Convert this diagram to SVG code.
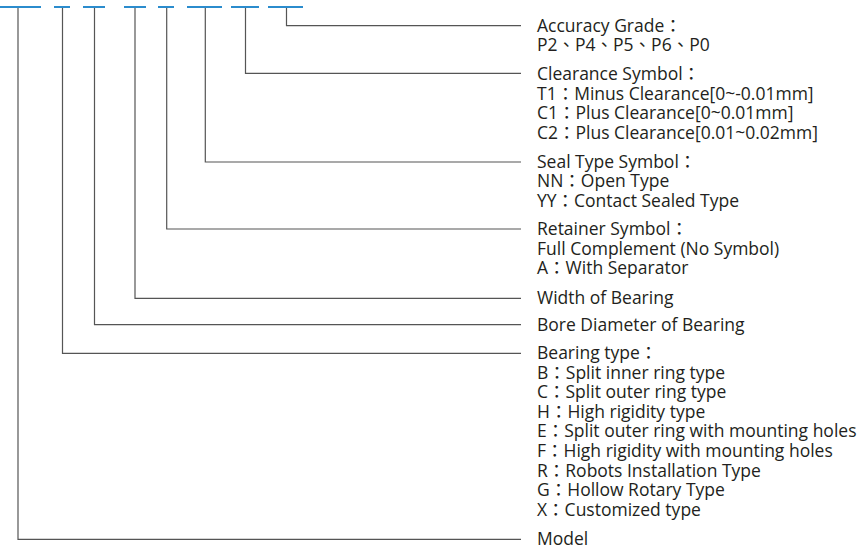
<svg xmlns="http://www.w3.org/2000/svg" width="866" height="547" viewBox="0 0 866 547">
<style>
.dash{stroke:#2b8ccd;stroke-width:2;fill:none}
.ln{stroke:#555;stroke-width:1.2;fill:none}
text{font-family:"Open Sans","Noto Sans CJK TC",sans-serif;font-size:17.5px;fill:#231f20}
</style>
<rect width="866" height="547" fill="#fff"/>
<g id="code">
<line class="dash" x1="0" y1="7" x2="41" y2="7"/>
<line class="dash" x1="54" y1="7" x2="70" y2="7"/>
<line class="dash" x1="83" y1="7" x2="105" y2="7"/>
<line class="dash" x1="124" y1="7" x2="146" y2="7"/>
<line class="dash" x1="158" y1="7" x2="174" y2="7"/>
<line class="dash" x1="187" y1="7" x2="222" y2="7"/>
<line class="dash" x1="231" y1="7" x2="259" y2="7"/>
<line class="dash" x1="268" y1="7" x2="303" y2="7"/>
</g>
<g id="connectors">
<polyline class="ln" points="286.5,8 286.5,25.7 521,25.7"/>
<polyline class="ln" points="245.5,8 245.5,73.3 521,73.3"/>
<polyline class="ln" points="205.3,8 205.3,162 521,162"/>
<polyline class="ln" points="166.7,8 166.7,229 521,229"/>
<polyline class="ln" points="135,8 135,298.3 521,298.3"/>
<polyline class="ln" points="94.5,8 94.5,324.7 521,324.7"/>
<polyline class="ln" points="62.5,8 62.5,353.3 521,353.3"/>
<polyline class="ln" points="18,8 18,539.3 521,539.3"/>
</g>
<g id="accuracy">
<text x="537" y="31.8">Accuracy Grade：</text>
<text x="537" y="51.4">P2、P4、P5、P6、P0</text>
</g>
<g id="clearance">
<text x="537" y="80">Clearance Symbol：</text>
<text x="537" y="99.6">T1：Minus Clearance[0~-0.01mm]</text>
<text x="537" y="119.2">C1：Plus Clearance[0~0.01mm]</text>
<text x="537" y="138.8">C2：Plus Clearance[0.01~0.02mm]</text>
</g>
<g id="seal">
<text x="537" y="167.5">Seal Type Symbol：</text>
<text x="537" y="187.1">NN：Open Type</text>
<text x="537" y="206.7">YY：Contact Sealed Type</text>
</g>
<g id="retainer">
<text x="537" y="235">Retainer Symbol：</text>
<text x="537" y="254.6">Full Complement (No Symbol)</text>
<text x="537" y="274.2">A：With Separator</text>
</g>
<g id="width">
<text x="537" y="304">Width of Bearing</text>
</g>
<g id="bore">
<text x="537" y="330.5">Bore Diameter of Bearing</text>
</g>
<g id="type">
<text x="537" y="359">Bearing type：</text>
<text x="537" y="378.6">B：Split inner ring type</text>
<text x="537" y="398.2">C：Split outer ring type</text>
<text x="537" y="417.8">H：High rigidity type</text>
<text x="537" y="437.4">E：Split outer ring with mounting holes</text>
<text x="537" y="457">F：High rigidity with mounting holes</text>
<text x="537" y="476.6">R：Robots Installation Type</text>
<text x="537" y="496.2">G：Hollow Rotary Type</text>
<text x="537" y="515.8">X：Customized type</text>
</g>
<g id="model">
<text x="537" y="544.5">Model</text>
</g>
</svg>
